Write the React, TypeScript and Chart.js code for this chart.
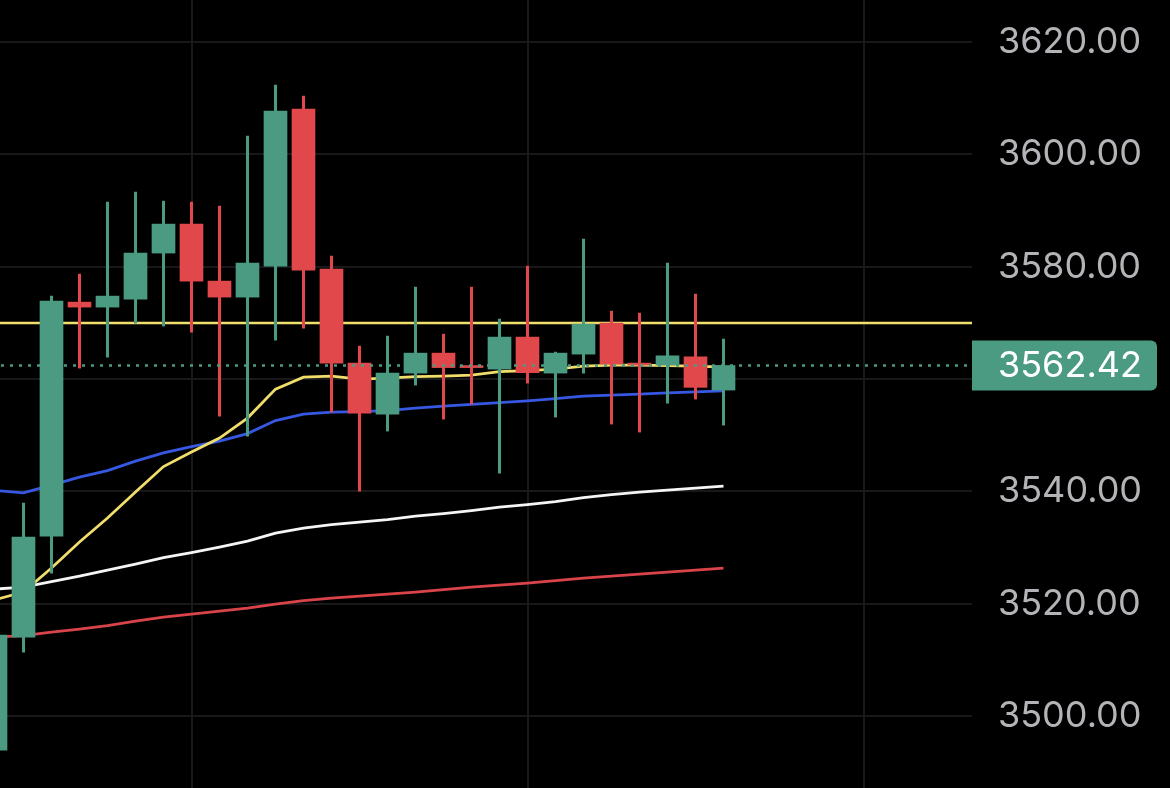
import React, { useEffect, useRef } from "react";
import { Chart, registerables } from "chart.js";

Chart.register(...registerables);

// ---- data ----
const candleIndex = [0, 1, 2, 3, 4, 5, 6, 7, 8, 9, 10, 11, 12, 13, 14, 15, 16, 17, 18, 19, 20, 21, 22, 23, 24, 25, 26];

const openPrices = [
  3493.95, 3514.07, 3532.05, 3573.71, 3572.82, 3574.25, 3582.44, 3587.6, 3577.45, 3574.6,
  3580.12, 3608.07, 3579.59, 3562.85, 3553.77, 3561.07, 3564.63, 3562.41, 3561.78, 3567.48,
  3561.07, 3564.45, 3569.97, 3562.85, 3562.5, 3563.97, 3558.05,
];
const highPrices = [
  3514.6, 3537.93, 3574.78, 3578.7, 3591.52, 3593.3, 3591.69, 3591.52, 3590.8, 3603.27,
  3612.34, 3610.39, 3581.9, 3565.88, 3567.66, 3576.38, 3568.01, 3576.38, 3570.69, 3580.12,
  3564.81, 3584.93, 3572.11, 3571.75, 3580.66, 3575.14, 3567.13,
];
const lowPrices = [
  3493.5, 3511.4, 3525.47, 3561.96, 3563.92, 3569.97, 3569.44, 3568.37, 3553.42, 3549.86,
  3566.95, 3569.08, 3554.13, 3540.06, 3550.75, 3558.94, 3552.88, 3555.55, 3543.27, 3559.29,
  3553.24, 3561.07, 3551.99, 3550.57, 3555.73, 3556.44, 3551.81,
];
const closePrices = [
  3514.43, 3531.88, 3573.89, 3572.82, 3574.78, 3582.44, 3587.6, 3577.45, 3574.6, 3580.66,
  3607.72, 3579.41, 3562.85, 3553.95, 3561.07, 3564.63, 3562.05, 3562.05, 3567.48, 3561.13,
  3564.63, 3569.8, 3562.67, 3562.5, 3564.15, 3558.53, 3562.42,
];

const maYellow = [
  3520.75, 3522.08, 3526.36, 3531.0, 3535.26, 3539.89, 3544.43, 3547.01, 3549.5, 3553.06,
  3558.22, 3560.36, 3560.54, 3560.0, 3560.18, 3560.45, 3560.54, 3560.72, 3561.34, 3561.52,
  3561.78, 3562.32, 3562.5, 3562.5, 3562.41, 3562.32, 3562.14,
];
const maBlue = [
  3540.15, 3539.76, 3541.13, 3542.56, 3543.71, 3545.41, 3546.88, 3547.98, 3548.97, 3550.3,
  3552.62, 3553.77, 3554.13, 3554.22, 3554.4, 3554.84, 3555.2, 3555.5, 3555.82, 3556.14,
  3556.53, 3556.98, 3557.15, 3557.33, 3557.56, 3557.74, 3557.92,
];
const maWhite = [
  3522.62, 3522.97, 3523.93, 3524.93, 3526.0, 3527.07, 3528.22, 3529.11, 3530.09, 3531.16,
  3532.59, 3533.48, 3534.1, 3534.55, 3534.99, 3535.61, 3536.06, 3536.59, 3537.22, 3537.66,
  3538.2, 3538.91, 3539.45, 3539.89, 3540.25, 3540.6, 3540.95,
];
const maRed = [
  3514.07, 3514.34, 3514.96, 3515.5, 3516.12, 3516.92, 3517.63, 3518.17, 3518.7, 3519.23,
  3519.95, 3520.57, 3521.02, 3521.37, 3521.73, 3522.08, 3522.53, 3522.97, 3523.33, 3523.69,
  3524.13, 3524.58, 3524.93, 3525.29, 3525.64, 3526.0, 3526.36,
];

const yTickValues = [3500, 3520, 3540, 3560, 3580, 3600, 3620];
const xGridIndices = [7, 19, 31];
const alertLevel = 3570;
const lastPrice = 3562.42;

// ---- styles ----
const GREEN = "#4b9b82";
const RED = "#e0484c";
const FONT = "Inter, 'Open Sans', sans-serif";

const overlayPlugin = {
  id: "overlay",
  beforeDraw(chart: any) {
    const { ctx, width, height } = chart;
    ctx.save();
    ctx.fillStyle = "#000";
    ctx.fillRect(0, 0, width, height);
    ctx.restore();
  },
  beforeDatasetsDraw(chart: any) {
    const { ctx, chartArea } = chart;
    const y = chart.scales.y.getPixelForValue(alertLevel);
    ctx.save();
    ctx.strokeStyle = "#f0df6c";
    ctx.lineWidth = 2.4;
    ctx.beginPath();
    ctx.moveTo(chartArea.left, y);
    ctx.lineTo(chartArea.right, y);
    ctx.stroke();
    ctx.restore();
  },
  afterDatasetsDraw(chart: any) {
    const { ctx, chartArea } = chart;
    const y = chart.scales.y.getPixelForValue(lastPrice);
    ctx.save();
    ctx.strokeStyle = GREEN;
    ctx.lineWidth = 2.6;
    ctx.setLineDash([3, 6]);
    ctx.beginPath();
    ctx.moveTo(chartArea.left + 1, y);
    ctx.lineTo(chartArea.right, y);
    ctx.stroke();
    ctx.restore();
  },
  afterDraw(chart: any) {
    const { ctx, chartArea } = chart;
    const y = chart.scales.y.getPixelForValue(lastPrice);
    const x0 = chartArea.right;
    const w = 185;
    const h = 50;
    ctx.save();
    ctx.fillStyle = GREEN;
    ctx.beginPath();
    (ctx as any).roundRect(x0, y - h / 2, w, h, [0, 6, 6, 0]);
    ctx.fill();
    ctx.fillStyle = "#ffffff";
    ctx.font = `36px ${FONT}`;
    ctx.textAlign = "left";
    ctx.textBaseline = "middle";
    ctx.fillText(lastPrice.toFixed(2), x0 + 26, y + 1);
    ctx.restore();
  },
};

export default function App() {
  const canvasRef = useRef<HTMLCanvasElement | null>(null);

  useEffect(() => {
    document.body.style.margin = "0";
    document.body.style.background = "#000";
    const canvas = canvasRef.current;
    if (!canvas) return;

    const colors = candleIndex.map((i) => (closePrices[i] >= openPrices[i] ? GREEN : RED));
    const line = (data: number[], color: string, order: number) => ({
      type: "line" as const,
      data: candleIndex.map((i) => ({ x: i, y: data[i] })),
      borderColor: color,
      borderWidth: 2.8,
      pointRadius: 0,
      tension: 0,
      order,
    });

    const chart = new Chart(canvas, {
      type: "bar",
      data: {
        datasets: [
          {
            type: "bar",
            label: "body",
            data: candleIndex.map((i) => ({ x: i, y: [openPrices[i], closePrices[i]] })) as any,
            backgroundColor: colors,
            borderWidth: 0,
            barThickness: 23,
            grouped: false,
            order: 0,
          },
          {
            type: "bar",
            label: "wick",
            data: candleIndex.map((i) => ({ x: i, y: [lowPrices[i], highPrices[i]] })) as any,
            backgroundColor: colors,
            borderWidth: 0,
            barThickness: 2.4,
            grouped: false,
            order: 1,
          },
          line(maYellow, "#f0dd6a", 2) as any,
          line(maBlue, "#3658e2", 3) as any,
          line(maWhite, "#f5f5f5", 4) as any,
          line(maRed, "#d9444b", 5) as any,
        ],
      },
      options: {
        animation: false,
        responsive: false,
        devicePixelRatio: 1,
        layout: { padding: 0 },
        plugins: { legend: { display: false }, tooltip: { enabled: false } },
        scales: {
          x: {
            type: "linear",
            min: 0.1607,
            max: 34.875,
            offset: false,
            border: { display: false },
            grid: { offset: false, color: "#18181a", lineWidth: 2, drawTicks: false },
            ticks: { display: false },
            afterBuildTicks: (scale: any) => {
              scale.ticks = xGridIndices.map((v) => ({ value: v }));
            },
            afterFit: (scale: any) => {
              scale.height = 0;
              scale.paddingLeft = 0;
              scale.paddingRight = 0;
            },
          },
          y: {
            type: "linear",
            position: "right",
            min: 3487.2,
            max: 3627.5,
            border: { display: false },
            grid: { color: "#18181a", lineWidth: 2, drawTicks: false },
            ticks: {
              padding: 26,
              color: "#b4b4b8",
              font: { family: FONT, size: 36 },
              callback: (v: any) => Number(v).toFixed(2),
            },
            afterBuildTicks: (scale: any) => {
              scale.ticks = yTickValues.map((v) => ({ value: v }));
            },
            afterFit: (scale: any) => {
              scale.width = 198;
              scale.paddingTop = 0;
              scale.paddingBottom = 0;
            },
          },
        },
      } as any,
      plugins: [overlayPlugin],
    });

    return () => chart.destroy();
  }, []);

  return (
    <div style={{ width: 1170, height: 788, background: "#000" }}>
      <canvas ref={canvasRef} width={1170} height={788} style={{ display: "block" }} />
    </div>
  );
}
